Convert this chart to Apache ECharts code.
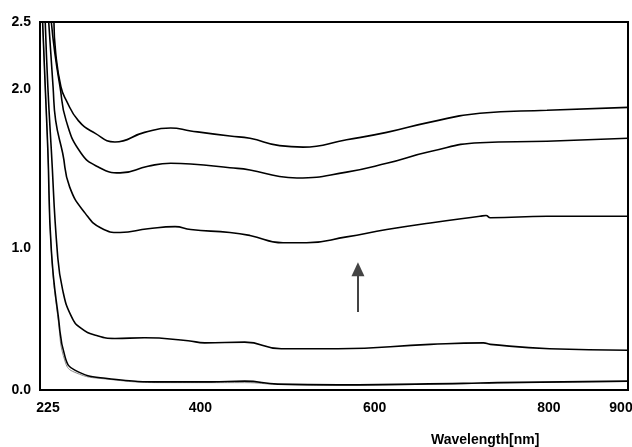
<!DOCTYPE html>
<html>
<head>
<meta charset="utf-8">
<script src="https://cdn.jsdelivr.net/npm/echarts@6/dist/echarts.min.js"></script>
<style>
  html, body { margin: 0; padding: 0; background: #fff; }
  #chart { width: 632px; height: 447px; }
</style>
</head>
<body>
<div id="chart"></div>
<script>
// wavelength (nm) / absorbance, top curve first
const waveA = [241, 243, 249, 255, 269, 288, 311, 345, 375, 398, 443, 466, 500, 527, 577, 623, 673, 730, 807, 900]
const absA = [2.5, 2.29, 2.06, 1.97, 1.83, 1.745, 1.685, 1.75, 1.78, 1.76, 1.725, 1.71, 1.66, 1.65, 1.70, 1.75, 1.82, 1.88, 1.90, 1.92]

const waveB = [238, 242, 248, 255, 272, 292, 317, 349, 375, 398, 443, 466, 500, 520, 577, 623, 673, 730, 807, 900]
const absB = [2.5, 2.29, 2.06, 1.83, 1.61, 1.515, 1.475, 1.52, 1.54, 1.535, 1.51, 1.495, 1.45, 1.44, 1.48, 1.54, 1.62, 1.68, 1.69, 1.71]

const waveC = [235, 240, 243, 251, 259, 277, 295, 317, 349, 380, 398, 443, 466, 504, 531, 577, 623, 673, 730, 737, 742, 807, 900]
const absC = [2.5, 2.06, 1.83, 1.61, 1.38, 1.20, 1.10, 1.07, 1.095, 1.11, 1.09, 1.07, 1.05, 1.00, 1.00, 1.04, 1.09, 1.135, 1.18, 1.185, 1.17, 1.18, 1.18]

const waveD = [231, 234, 238, 245, 251, 261, 272, 290, 311, 345, 395, 414, 460, 502, 567, 673, 734, 742, 810, 900]
const absD = [2.5, 2.06, 1.63, 0.93, 0.68, 0.50, 0.42, 0.37, 0.35, 0.355, 0.335, 0.32, 0.325, 0.28, 0.28, 0.31, 0.32, 0.31, 0.28, 0.27]

const waveE = [228, 231, 234, 238, 246, 254, 265, 300, 375, 421, 460, 498, 567, 711, 750, 900]
const absE = [2.5, 2.06, 1.63, 0.95, 0.50, 0.22, 0.135, 0.08, 0.055, 0.055, 0.06, 0.04, 0.035, 0.045, 0.05, 0.06]
// faint grey trace sitting just under the bottom curve
const absE2 = [2.5, 2.06, 1.63, 0.95, 0.47, 0.19, 0.12, 0.075, 0.05, 0.05, 0.05, 0.038, 0.033, 0.043, 0.048, 0.058]

const xTickLabels = [225, 400, 600, 800, 900]
const yTickLabels = [0, 1, 2, 2.5]

// arrow showing increasing absorbance
const arrowWave = 590
const arrowFrom = 0.53
const arrowTo = 0.82

const pairs = (xs, ys) => xs.map((x, i) => [x, ys[i]])

const fontFamily = '"Liberation Sans", Arial, sans-serif'

function curve(name, xs, ys, color, width) {
  return {
    name: name,
    type: 'line',
    data: pairs(xs, ys),
    showSymbol: false,
    smooth: 0.5,
    lineStyle: { color: color, width: width },
    silent: true,
    animation: false
  }
}

const chart = echarts.init(document.getElementById('chart'))

const series = [
  curve('E2', waveE, absE2, '#8a8a8a', 1),
  curve('E', waveE, absE, '#000', 1.6),
  curve('D', waveD, absD, '#000', 1.6),
  curve('C', waveC, absC, '#000', 1.6),
  curve('B', waveB, absB, '#000', 1.6),
  curve('A', waveA, absA, '#000', 1.6)
]
series[5].markLine = {
  silent: true,
  animation: false,
  symbol: ['none', 'triangle'],
  symbolSize: [13, 14],
  label: { show: false },
  itemStyle: { color: '#000' },
  lineStyle: { color: '#444', width: 2, type: 'solid' },
  data: [[{ coord: [arrowWave, arrowFrom] }, { coord: [arrowWave, arrowTo] }]]
}

const labelStyle = { color: '#000', fontWeight: 'bold', fontSize: 14, fontFamily: fontFamily }

chart.setOption({
  backgroundColor: '#fff',
  grid: {
    left: 40,
    right: 4,
    top: 22,
    bottom: 57,
    outerBoundsMode: 'none',
    show: true,
    borderColor: '#000',
    borderWidth: 2
  },
  xAxis: {
    type: 'value',
    min: 225,
    max: 900,
    interval: 25,
    axisLine: { show: true, lineStyle: { color: '#000', width: 2 } },
    axisTick: { show: false },
    splitLine: { show: false },
    axisLabel: {
      margin: 11,
      hideOverlap: false,
      rich: {
        r: Object.assign({ padding: [0, 0, 0, 16] }, labelStyle),
        e: Object.assign({ padding: [0, 14, 0, 0] }, labelStyle)
      },
      formatter: v => {
        if (xTickLabels.indexOf(v) < 0) return ''
        return v === 900 ? '{e|' + v + '}' : '{r|' + v + '}'
      }
    }
  },
  yAxis: {
    type: 'value',
    min: 0,
    max: 2.5,
    interval: 0.5,
    name: 'Abs.',
    nameLocation: 'middle',
    nameGap: 20,
    nameTextStyle: labelStyle,
    axisLine: { show: true, lineStyle: { color: '#000', width: 2 } },
    axisTick: { show: false },
    splitLine: { show: false },
    axisLabel: {
      margin: 9,
      hideOverlap: false,
      rich: {
        n: labelStyle,
        up: Object.assign({ padding: [0, 0, 12, 0] }, labelStyle),
        dn: Object.assign({ padding: [10, 0, 0, 0] }, labelStyle)
      },
      formatter: v => {
        if (yTickLabels.indexOf(v) < 0) return ''
        const key = v === 2 ? 'up' : (v === 1 ? 'dn' : 'n')
        return '{' + key + '|' + v.toFixed(1) + '}'
      }
    }
  },
  graphic: [{
    type: 'text',
    left: 431,
    top: 433,
    style: {
      text: 'Wavelength[nm]',
      fill: '#000',
      font: 'bold 14px ' + fontFamily
    }
  }],
  series: series
})
</script>
</body>
</html>
